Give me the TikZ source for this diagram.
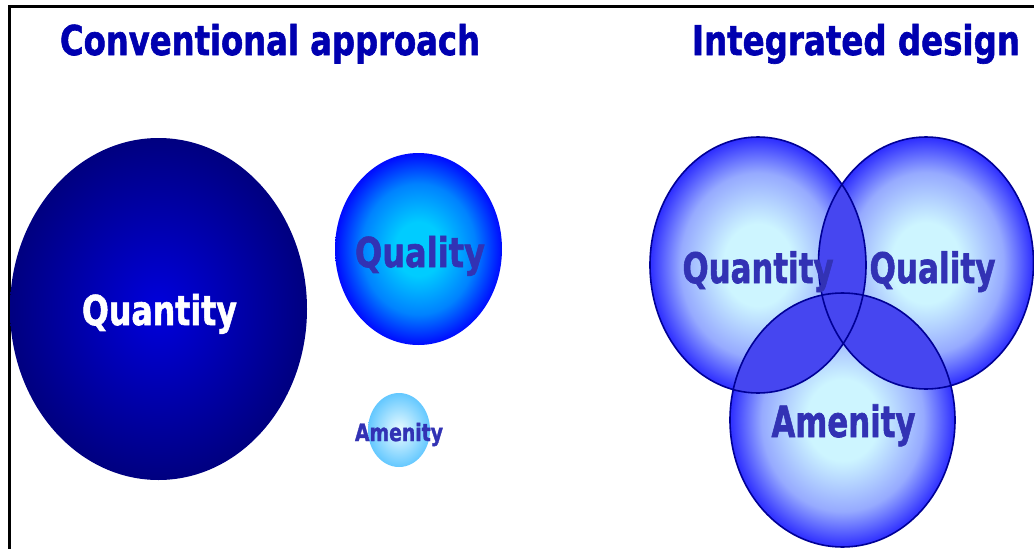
\documentclass[tikz,border=0pt]{standalone}
\usepackage{fontspec}
\setmainfont{DejaVu Sans}[BoldFeatures={FakeBold=1.6}]
\usepackage{graphicx}
\definecolor{titleblue}{RGB}{0,0,176}
\definecolor{navy}{RGB}{0,0,150}
\definecolor{bigedge}{RGB}{0,0,128}
\definecolor{bigmid}{RGB}{0,0,220}
\definecolor{qcenter}{RGB}{0,204,255}
\definecolor{qmid}{RGB}{0,130,255}
\definecolor{qedge}{RGB}{0,10,255}
\definecolor{acenter}{RGB}{235,252,255}
\definecolor{aedge}{RGB}{100,200,255}
\definecolor{icenter}{RGB}{205,245,255}
\definecolor{imid}{RGB}{150,170,255}
\definecolor{iedge}{RGB}{45,45,255}
\definecolor{overlap}{RGB}{70,70,240}
\definecolor{lbltext}{RGB}{50,50,180}
\pgfdeclareradialshading{bigshade}{\pgfpointorigin}{color(0bp)=(bigmid); color(25bp)=(bigedge); color(50bp)=(bigedge)}
\pgfdeclareradialshading{qualshade}{\pgfpointorigin}{color(0bp)=(qcenter); color(7bp)=(qcenter); color(17bp)=(qmid); color(25bp)=(qedge); color(50bp)=(qedge)}
\pgfdeclareradialshading{amshade}{\pgfpointorigin}{color(0bp)=(acenter); color(25bp)=(aedge); color(50bp)=(aedge)}
\pgfdeclareradialshading{intshade}{\pgfpointorigin}{color(0bp)=(icenter); color(8bp)=(icenter); color(18bp)=(imid); color(25bp)=(iedge); color(50bp)=(iedge)}
\newcommand{\fitlbl}[3]{\resizebox{#1}{\height}{\fontsize{#2}{#2}\selectfont\bfseries #3}}
\tikzset{
  lbl/.style={inner sep=0pt, anchor=base},
  ring/.style={draw=navy, line width=1.6pt},
}
\begin{document}
\begin{tikzpicture}[x=1pt,y=-1pt]
\useasboundingbox (0,0) rectangle (1034,549);
\fill[white] (0,0) rectangle (1034,549);
% frame
\draw[line width=2.5pt] (9.5,549) -- (9.5,6.5) -- (1034,6.5);
% titles
\node[lbl, text=titleblue] (t1) at (270,55) {\fitlbl{420pt}{41}{Conventional approach}};
\node[lbl, text=titleblue] (t2) at (856,55) {\fitlbl{328pt}{41}{Integrated design}};
% conventional circles
\shade[shading=bigshade] (158.5,309) ellipse [x radius=148.5, y radius=171];
\shade[shading=qualshade] (418.5,249) ellipse [x radius=83.5, y radius=96];
\shade[shading=amshade] (399,430) ellipse [x radius=31, y radius=37];
\node[lbl, text=white] (cqt) at (159.5,325) {\fitlbl{155pt}{41}{Quantity}};
\node[lbl, text=lbltext] (cql) at (420,267) {\fitlbl{130pt}{41}{Quality}};
\node[lbl, text=lbltext] (cam) at (399,441) {\fitlbl{88pt}{24}{Amenity}};
% integrated circles
\shade[shading=intshade] (758,265) ellipse [x radius=108, y radius=128];
\shade[shading=intshade] (926,263) ellipse [x radius=107.5, y radius=126];
\shade[shading=intshade] (842.5,420) ellipse [x radius=112.5, y radius=127];
\begin{scope}
  \clip (758,265) ellipse [x radius=108, y radius=128];
  \fill[overlap] (926,263) ellipse [x radius=107.5, y radius=126];
  \fill[overlap] (842.5,420) ellipse [x radius=112.5, y radius=127];
\end{scope}
\begin{scope}
  \clip (926,263) ellipse [x radius=107.5, y radius=126];
  \fill[overlap] (842.5,420) ellipse [x radius=112.5, y radius=127];
\end{scope}
\draw[ring] (758,265) ellipse [x radius=108, y radius=128];
\draw[ring] (926,263) ellipse [x radius=107.5, y radius=126];
\draw[ring] (842.5,420) ellipse [x radius=112.5, y radius=127];
\node[lbl, text=lbltext] (iqt) at (758,283) {\fitlbl{151pt}{42}{Quantity}};
\node[lbl, text=lbltext] (iql) at (932.5,283) {\fitlbl{126pt}{42}{Quality}};
\node[lbl, text=lbltext] (iam) at (843.5,437) {\fitlbl{144pt}{43}{Amenity}};
\end{tikzpicture}
\end{document}
